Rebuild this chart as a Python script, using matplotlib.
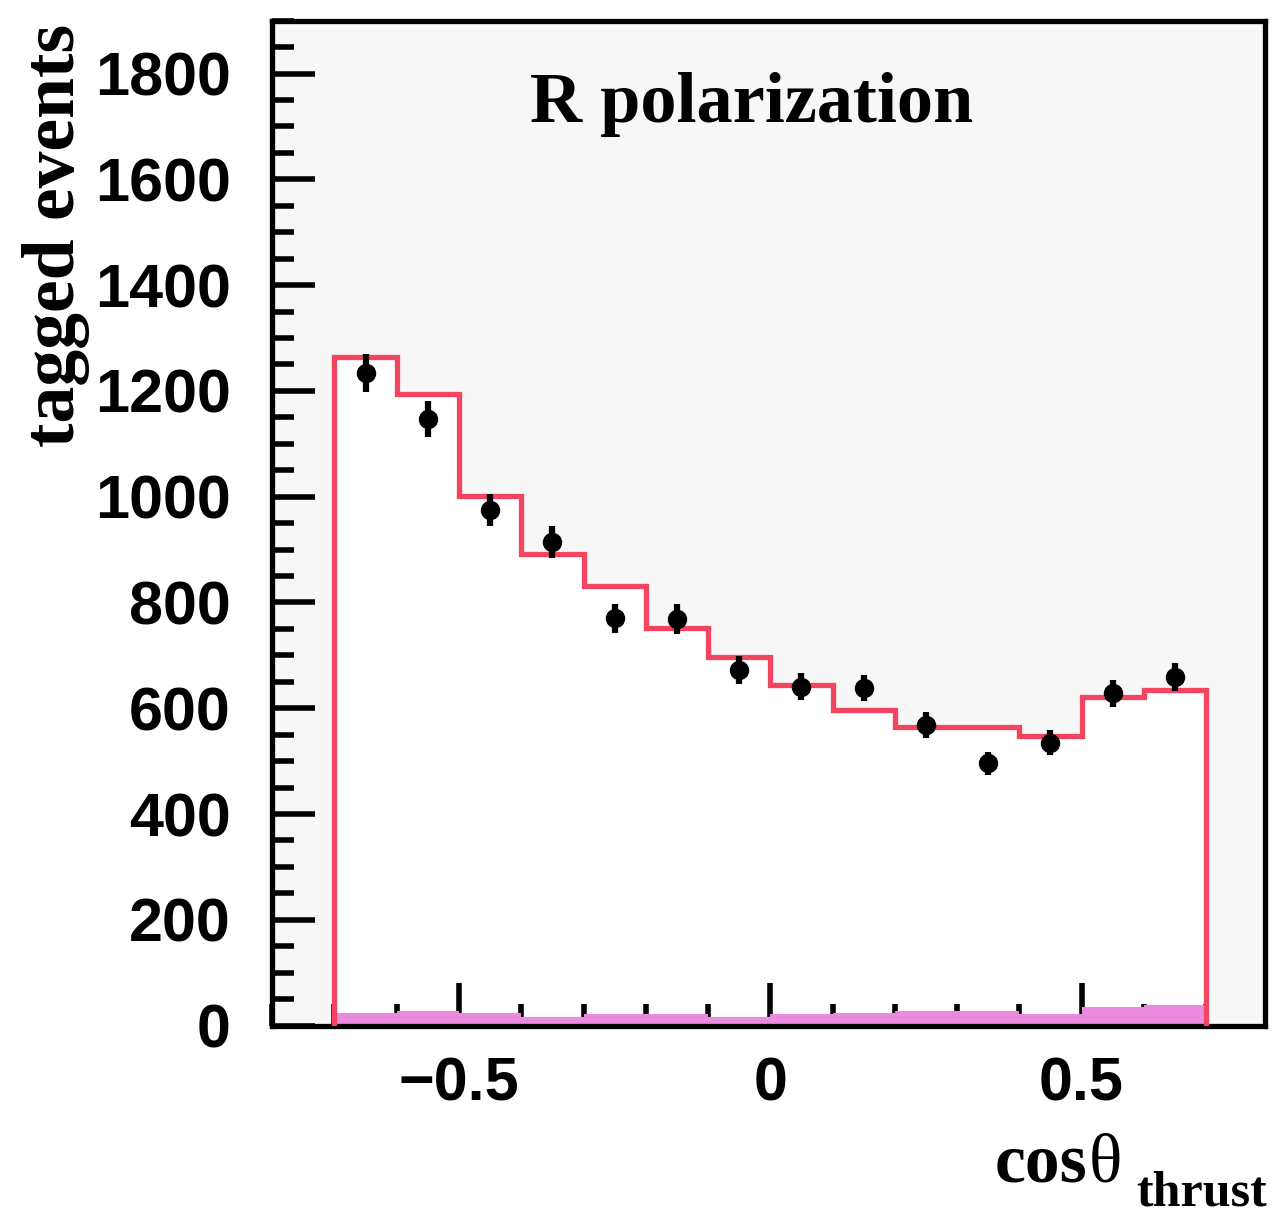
import matplotlib
matplotlib.use("Agg")
import matplotlib.pyplot as plt
from matplotlib.ticker import MultipleLocator

# bin edges in cos(theta_thrust)
bin_edges = [-0.7, -0.6, -0.5, -0.4, -0.3, -0.2, -0.1, 0.0, 0.1, 0.2, 0.3, 0.4, 0.5, 0.6, 0.7]
# expectation (red histogram)
mc_counts = [1265, 1195, 1002, 892, 831, 752, 697, 644, 596, 564, 564, 548, 622, 635]
# background (magenta filled)
bkg_counts = [23, 28, 23, 17, 22, 22, 17, 21, 23, 28, 28, 21, 36, 39]
# data points
data_x = [-0.65, -0.55, -0.45, -0.35, -0.25, -0.15, -0.05, 0.05, 0.15, 0.25, 0.35, 0.45, 0.55, 0.65]
data_y = [1234, 1146, 975, 915, 770, 769, 672, 641, 638, 568, 496, 535, 628, 659]
data_err = [36, 34, 31, 30, 28, 28, 26, 25, 25, 24, 22, 23, 25, 26]

fig = plt.figure(figsize=(12.78, 12.18), dpi=100)
ax = fig.add_axes([0.213, 0.158, 0.777, 0.825])
ax.set_facecolor("#f7f7f7")

red = "#f2455f"
pink = "#ec8ae0"

ax.stairs(mc_counts, bin_edges, fill=True, color="white", zorder=1)
ax.stairs(bkg_counts, bin_edges, fill=True, color=pink, zorder=2)
ax.stairs(mc_counts, bin_edges, baseline=0, color=red, linewidth=3.8, zorder=3)
ax.errorbar(data_x, data_y, yerr=data_err, fmt="o", color="black", ms=13,
            elinewidth=4.5, capsize=0, zorder=4)

ax.set_xlim(-0.8, 0.795)
ax.set_ylim(0, 1900)

for side in ["left", "bottom", "top", "right"]:
    ax.spines[side].set_linewidth(3.8)

ax.xaxis.set_major_locator(MultipleLocator(0.5))
ax.xaxis.set_minor_locator(MultipleLocator(0.1))
ax.yaxis.set_major_locator(MultipleLocator(200))
ax.yaxis.set_minor_locator(MultipleLocator(50))
ax.tick_params(which="both", direction="in", top=False, right=False, width=4)
ax.tick_params(which="major", length=31)
ax.tick_params(which="minor", length=16)
ax.tick_params(axis="y", which="major", pad=30)
ax.tick_params(axis="x", which="major", pad=22)
ax.set_xticks([-0.5, 0, 0.5])
ax.set_xticklabels(["\u22120.5", "0", "0.5"])
for lab in ax.get_xticklabels() + ax.get_yticklabels():
    lab.set_fontfamily("Liberation Sans")
    lab.set_fontweight("bold")
    lab.set_fontsize(44)

fig.text(0.044, 0.807, "tagged events", rotation=90, ha="center", va="center",
         fontfamily="Liberation Serif", fontweight="bold", fontsize=53)
fig.text(0.588, 0.914, "R polarization", ha="center", va="center",
         fontfamily="Liberation Serif", fontweight="bold", fontsize=52)
fig.text(0.778, 0.030, "cos", ha="left", va="baseline",
         fontfamily="Liberation Serif", fontweight="bold", fontsize=50)
fig.text(0.852, 0.030, "\u03b8", ha="left", va="baseline",
         fontfamily="Liberation Serif", fontsize=50)
fig.text(0.889, 0.010, "thrust", ha="left", va="baseline",
         fontfamily="Liberation Serif", fontweight="bold", fontsize=36)

fig.savefig("out.png", dpi=100)
